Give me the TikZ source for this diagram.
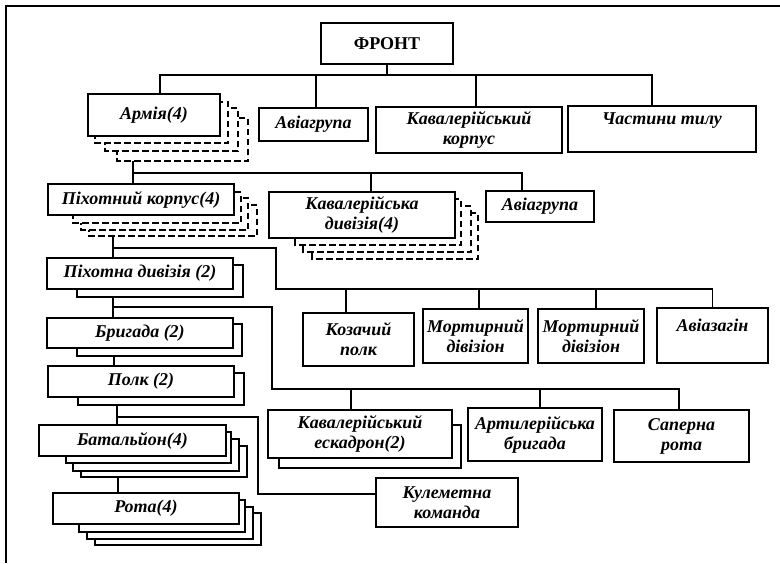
\documentclass[tikz,border=0pt]{standalone}
\usepackage{fontspec}
\setmainfont{Liberation Serif}
\begin{document}
\begin{tikzpicture}[x=1pt, y=-1pt, font=\fontsize{18}{20}\selectfont\bfseries\itshape,
	unit/.style={draw, fill=white, line width=2.1pt, inner sep=0pt, align=center},
	copyline/.style={draw, fill=white, line width=2.1pt},
	dashcopy/.style={draw, fill=white, line width=1.6pt, dash pattern=on 6.5pt off 3.5pt},
	link/.style={line width=1.5pt}]
	\useasboundingbox (0,0) rectangle (780,563);
	\draw[line width=2.2pt] (6,563) -- (6,6) -- (780,6);
	\node[unit, minimum width=132, minimum height=41, font=\fontsize{18}{20}\selectfont\bfseries] (front) at (387,43.5) {ФРОНТ};
	\draw[dashcopy] (117,118) rectangle (248,161) coordinate (armyS);
	\draw[dashcopy] (105,108) rectangle (238,151);
	\draw[dashcopy] (95,102) rectangle (228,143);
	\node[unit, minimum width=132, minimum height=42] (army) at (154,115) {Армія(4)};
	\node[unit, minimum width=109, minimum height=33] (air1) at (313.5,124.5) {Авіагрупа};
	\node[unit, minimum width=186, minimum height=46] (cavcorps) at (469,130) {Кавалерійський\\корпус};
	\node[unit, minimum width=188, minimum height=46] (rear) at (662,129) {Частини тилу\\\mbox{}};
	\draw[dashcopy] (89,205) rectangle (257,236) coordinate (infcorpsS);
	\draw[dashcopy] (81,198) rectangle (248,230);
	\draw[dashcopy] (73,192) rectangle (241,223);
	\node[unit, minimum width=186, minimum height=31] (infcorps) at (141,199.5) {Піхотний корпус(4)};
	\draw[dashcopy] (312,213) rectangle (478,259);
	\draw[dashcopy] (303,206) rectangle (471,252);
	\draw[dashcopy] (295,199) rectangle (461,245);
	\node[unit, minimum width=186, minimum height=46] (cavdiv) at (362,215) {Кавалерійська\\дивізія(4)};
	\node[unit, minimum width=108, minimum height=31] (air2) at (540,206.5) {Авіагрупа};
	\draw[copyline] (77,265) rectangle (243,297) coordinate (infdivS);
	\node[unit, minimum width=186, minimum height=31] (infdiv) at (140,273.5) {Піхотна дивізія (2)};
	\node[unit, minimum width=111, minimum height=53] (cossack) at (358.5,339.5) {Козачий\\полк};
	\node[unit, minimum width=105, minimum height=54] (mortar1) at (475.5,336) {Мортирний\\дівізіон};
	\node[unit, minimum width=106, minimum height=54] (mortar2) at (591,336) {Мортирний\\дівізіон};
	\node[unit, minimum width=111, minimum height=55] (airfleet) at (712.5,335.5) {Авіазагін\\\mbox{}};
	\draw[copyline] (77,324) rectangle (242,356) coordinate (brigadeS);
	\node[unit, minimum width=186, minimum height=30] (brigade) at (140,333) {Бригада (2)};
	\draw[copyline] (78,373) rectangle (244,405) coordinate (regimentS);
	\node[unit, minimum width=186, minimum height=31] (regiment) at (141,381.5) {Полк (2)};
	\draw[copyline] (81,446) rectangle (247,477) coordinate (battalionS);
	\draw[copyline] (73,439) rectangle (239,471);
	\draw[copyline] (66,432) rectangle (231,463);
	\node[unit, minimum width=187, minimum height=31] (battalion) at (132.5,440.5) {Батальйон(4)};
	\draw[copyline] (95,513) rectangle (261,545);
	\draw[copyline] (87,507) rectangle (253,539);
	\draw[copyline] (79,500) rectangle (245,532);
	\node[unit, minimum width=186, minimum height=31] (company) at (146,508.5) {Рота(4)};
	\draw[copyline] (279,425) rectangle (461,468);
	\node[unit, minimum width=184, minimum height=48] (squadron) at (360,434) {Кавалерійський\\ескадрон(2)};
	\node[unit, minimum width=134, minimum height=53] (artbrig) at (535,434.5) {Артилерійська\\бригада};
	\node[unit, minimum width=135, minimum height=52] (sappers) at (681.5,436) {Саперна\\рота};
	\node[unit, minimum width=142, minimum height=49] (mgteam) at (447,502.5) {Кулеметна\\команда};
	\coordinate (bus1) at (387,75);
	\coordinate (bus2) at (133,173);
	\coordinate (bus3) at (113,248);
	\coordinate (bus4) at (276,289);
	\coordinate (bus5) at (113,307);
	\coordinate (bus6) at (272,389);
	\coordinate (bus7) at (117,417);
	\coordinate (bus7b) at (258,494);
	\draw[link] (front) -- (bus1);
	\draw[link] ([xshift=6]army.north) |- (bus1) -| ([xshift=-10]rear.north);
	\draw[link] ([xshift=2.5]air1.north) -- ([xshift=2.5]air1.north |- bus1);
	\draw[link] ([xshift=7]cavcorps.north) -- ([xshift=7]cavcorps.north |- bus1);
	\draw[link] (armyS -| bus2) -- ([xshift=-8]infcorps.north);
	\draw[link] (bus2) -| ([xshift=-18]air2.north);
	\draw[link] ([xshift=9]cavdiv.north) -- ([xshift=9]cavdiv.north |- bus2);
	\draw[link] (infcorpsS -| bus3) -- ([xshift=-27]infdiv.north);
	\draw[link] (bus3) -| (bus4) -| (airfleet.north);
	\foreach \n/\s in {cossack/-12.5, mortar1/3.5, mortar2/5}
		\draw[link] ([xshift=\s]\n.north) -- ([xshift=\s]\n.north |- bus4);
	\draw[link] (infdivS -| bus5) -- ([xshift=-27]brigade.north);
	\draw[link] (bus5) -| (bus6) -| ([xshift=-2.5]sappers.north);
	\foreach \n/\s in {squadron/-9, artbrig/5}
		\draw[link] ([xshift=\s]\n.north) -- ([xshift=\s]\n.north |- bus6);
	\draw[link] ([xshift=-27]regiment.north) -- ([xshift=-27]regiment.north |- brigadeS);
	\draw[link] (regimentS -| bus7) -- ([xshift=-15.5]battalion.north);
	\draw[link] (bus7) -| (bus7b) -- ([yshift=8.5]mgteam.west);
	\draw[link] ([xshift=-28]company.north) -- ([xshift=-28]company.north |- battalionS);
\end{tikzpicture}
\end{document}
